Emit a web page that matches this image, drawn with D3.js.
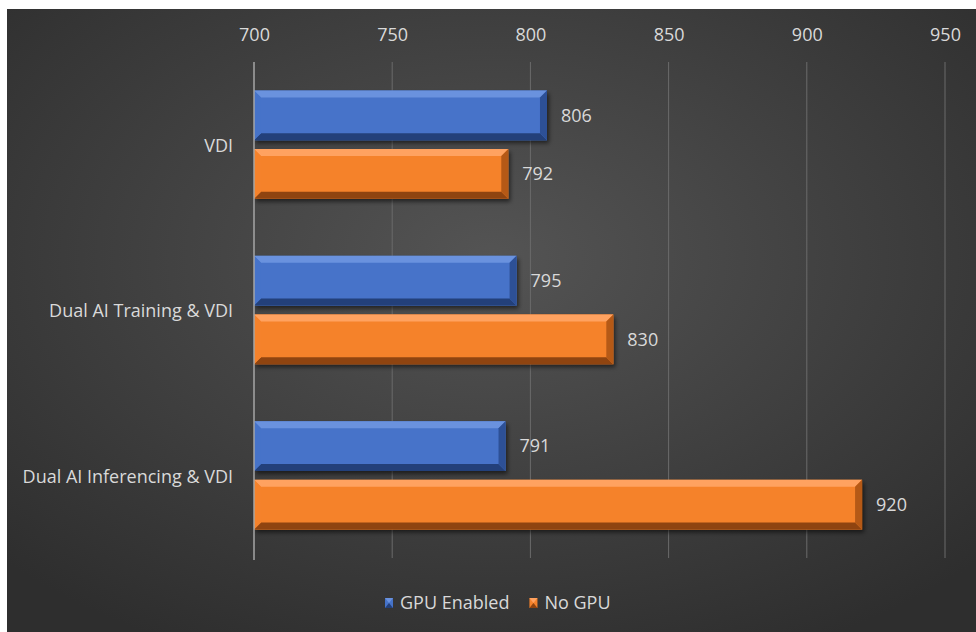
<!DOCTYPE html>
<html>
<head>
<meta charset="utf-8">
<script src="https://cdn.jsdelivr.net/npm/d3@7"></script>
<style>
  html, body { margin: 0; padding: 0; background: #ffffff; }
  svg { display: block; }
  text { font-family: "Open Sans", Lato, sans-serif; }
</style>
</head>
<body>
<svg id="chart" width="976" height="632"></svg>
<script>
// Chart data
const categories = ["VDI", "Dual AI Training & VDI", "Dual AI Inferencing & VDI"];
const seriesNames = ["GPU Enabled", "No GPU"];
const gpuEnabled = [806, 795, 791];
const noGpu = [792, 830, 920];
const xTicks = [700, 750, 800, 850, 900, 950];

const seriesValues = [gpuEnabled, noGpu];
const seriesColors = [
  { base: "#4673c9", light: "#6a92de", dark: "#23407a", side: "#2d5096" },
  { base: "#f5822b", light: "#ffa260", dark: "#8f4410", side: "#b55916" }
];

const W = 976, H = 632;
const FONT = "'Open Sans', Lato, sans-serif";
const FS = 18;
const TXT = "#d9d9d9";
const svg = d3.select("#chart");
const defs = svg.append("defs");

// Dark radial background
const bg = defs.append("radialGradient").attr("id", "bgGrad")
  .attr("cx", "50%").attr("cy", "40%").attr("r", "70%");
bg.append("stop").attr("offset", "0%").attr("stop-color", "#545454");
bg.append("stop").attr("offset", "100%").attr("stop-color", "#2e2e2e");

const shadow = defs.append("filter").attr("id", "barShadow")
  .attr("x", "-5%").attr("y", "-20%").attr("width", "115%").attr("height", "160%");
shadow.append("feDropShadow").attr("dx", 2).attr("dy", 3).attr("stdDeviation", 2)
  .attr("flood-color", "#000").attr("flood-opacity", 0.55);

svg.append("rect").attr("x", 7).attr("y", 9).attr("width", W - 7).attr("height", H - 9)
  .attr("fill", "url(#bgGrad)");

const margin = { left: 254, right: 31, top: 62, bottom: 74 };
const x = d3.scaleLinear().domain([700, 950]).range([margin.left, W - margin.right]);
const y = d3.scaleBand().domain(categories).range([margin.top, H - margin.bottom])
  .paddingInner(0.345).paddingOuter(0.172);
const ySub = d3.scaleBand().domain(seriesNames).range([0, y.bandwidth()]).paddingInner(0.15);

// Gridlines
svg.append("g").selectAll("line").data(xTicks.slice(1)).join("line")
  .attr("x1", d => x(d)).attr("x2", d => x(d))
  .attr("y1", margin.top).attr("y2", H - margin.bottom)
  .attr("stroke", "#6b6b6b").attr("stroke-width", 1);

// Top axis labels
const axis = d3.axisTop(x).tickValues(xTicks).tickSize(0).tickPadding(0);
const axisG = svg.append("g").attr("transform", `translate(0,${margin.top - 21})`).call(axis);
axisG.select(".domain").remove();
axisG.selectAll("text").attr("fill", TXT).attr("font-size", FS)
  .attr("font-family", FONT);

// Beveled bar drawing
function bevelBar(g, x0, x1, y0, h, c) {
  const b = Math.min(7, h / 4);
  const w = x1 - x0;
  g.append("rect").attr("x", x0).attr("y", y0).attr("width", w).attr("height", h)
    .attr("fill", c.base).attr("filter", "url(#barShadow)");
  // top bevel
  g.append("polygon").attr("points",
    [[x0, y0], [x1, y0], [x1 - b, y0 + b], [x0 + b, y0 + b]].join(" "))
    .attr("fill", c.light);
  // bottom bevel
  g.append("polygon").attr("points",
    [[x0, y0 + h], [x1, y0 + h], [x1 - b, y0 + h - b], [x0 + b, y0 + h - b]].join(" "))
    .attr("fill", c.dark);
  // right bevel
  g.append("polygon").attr("points",
    [[x1, y0], [x1, y0 + h], [x1 - b, y0 + h - b], [x1 - b, y0 + b]].join(" "))
    .attr("fill", c.side);
  // left bevel
  g.append("polygon").attr("points",
    [[x0, y0], [x0, y0 + h], [x0 + b, y0 + h - b], [x0 + b, y0 + b]].join(" "))
    .attr("fill", c.base).attr("opacity", 0.9);
}

const barsG = svg.append("g");
categories.forEach((cat, i) => {
  seriesNames.forEach((s, j) => {
    const v = seriesValues[j][i];
    const y0 = y(cat) + ySub(s);
    const h = ySub.bandwidth();
    const g = barsG.append("g");
    bevelBar(g, x(700), x(v), y0, h, seriesColors[j]);
    svg.append("text").attr("x", x(v) + 14).attr("y", y0 + h / 2)
      .attr("dy", "0.35em").attr("fill", TXT).attr("font-size", FS)
      .attr("font-family", FONT)
      .text(v);
  });
});

// Vertical axis line at the baseline
svg.append("line").attr("x1", x(700)).attr("x2", x(700))
  .attr("y1", margin.top).attr("y2", H - margin.bottom + 2)
  .attr("stroke", "#a6a6a6").attr("stroke-width", 1.5);

// Category labels
svg.append("g").selectAll("text").data(categories).join("text")
  .attr("x", 233).attr("y", d => y(d) + y.bandwidth() / 2 + 1)
  .attr("dy", "0.35em").attr("text-anchor", "end")
  .attr("fill", TXT).attr("font-size", FS).attr("font-family", FONT)
  .text(d => d);

// Legend
const legend = svg.append("g").attr("transform", "translate(385,603)");
let lx = 0;
seriesNames.forEach((s, j) => {
  const g = legend.append("g").attr("transform", `translate(${lx},0)`);
  const c = seriesColors[j];
  g.append("rect").attr("x", 0).attr("y", -5).attr("width", 8).attr("height", 10).attr("fill", c.base);
  g.append("polygon").attr("points", "0,-5 8,-5 4,0").attr("fill", c.light);
  g.append("polygon").attr("points", "0,5 8,5 4,0").attr("fill", c.dark);
  const t = g.append("text").attr("x", 15).attr("dy", "0.35em")
    .attr("fill", TXT).attr("font-size", FS).attr("font-family", FONT).text(s);
  lx += 15 + t.node().getComputedTextLength() + 20;
});
</script>
</body>
</html>
